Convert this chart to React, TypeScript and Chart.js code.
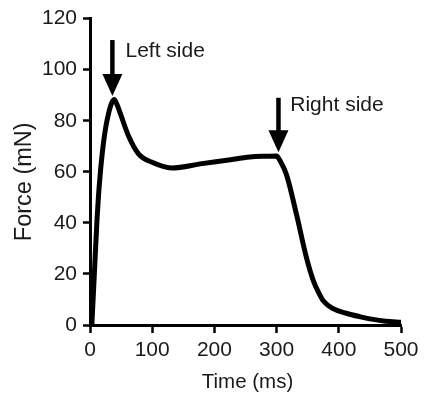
import React, { useEffect, useRef } from "react";
import { Chart, registerables } from "chart.js";

Chart.register(...registerables);

const timeMs = [3, 7, 11, 15, 20, 25, 30, 35, 39, 44, 50, 62, 78, 99, 131, 180, 220, 257, 285, 300, 305, 316, 332, 348, 359, 368, 375, 390, 412, 435, 455, 475, 500];
const forceMN = [0, 20, 40, 55, 68, 77, 83, 87, 88.3, 86, 82, 74, 67, 63.8, 61.5, 63.2, 64.5, 65.8, 66.1, 66.2, 64.6, 58.8, 43.3, 26.4, 17.4, 12.5, 9.5, 6.5, 4.6, 3.2, 2.2, 1.5, 1.1];

const xTicks = [0, 100, 200, 300, 400, 500];
const yTicks = [0, 20, 40, 60, 80, 100, 120];

const xTitle = "Time (ms)";
const yTitle = "Force (mN)";

const arrowLabels = ["Left side", "Right side"];
const arrowX = [36, 303];
const arrowTop = [111.6, 89];
const arrowTip = [89.7, 67.7];
const labelX = [57, 322];
const labelY = [104.8, 83.8];

const FONT = "'Liberation Sans', Arial, sans-serif";
const TEXT = "#1a1a1a";

const annotPlugin = {
  id: "annot",
  afterDatasetsDraw(chart: any) {
    const ctx = chart.ctx;
    const xs = chart.scales.x;
    const ys = chart.scales.y;
    ctx.save();
    arrowLabels.forEach((label, i) => {
      const x = xs.getPixelForValue(arrowX[i]);
      const yTop = ys.getPixelForValue(arrowTop[i]);
      const yTip = ys.getPixelForValue(arrowTip[i]);
      const headLen = 22;
      const headHalf = 10;
      ctx.strokeStyle = "#000";
      ctx.fillStyle = "#000";
      ctx.lineWidth = 4.5;
      ctx.beginPath();
      ctx.moveTo(x, yTop);
      ctx.lineTo(x, yTip - headLen + 2);
      ctx.stroke();
      ctx.beginPath();
      ctx.moveTo(x - headHalf, yTip - headLen);
      ctx.lineTo(x + headHalf, yTip - headLen);
      ctx.lineTo(x, yTip);
      ctx.closePath();
      ctx.fill();
      ctx.fillStyle = TEXT;
      ctx.font = `21px ${FONT}`;
      ctx.textAlign = "left";
      ctx.textBaseline = "alphabetic";
      ctx.fillText(label, xs.getPixelForValue(labelX[i]), ys.getPixelForValue(labelY[i]));
    });
    // axis titles
    ctx.fillStyle = TEXT;
    ctx.textAlign = "center";
    ctx.textBaseline = "middle";
    ctx.font = `20.5px ${FONT}`;
    ctx.fillText(xTitle, (chart.chartArea.left + chart.chartArea.right) / 2 + 2, 382);
    ctx.translate(25, (chart.chartArea.top + chart.chartArea.bottom) / 2 + 10);
    ctx.rotate(-Math.PI / 2);
    ctx.font = `23.5px ${FONT}`;
    ctx.fillText(yTitle, 0, 0);
    ctx.restore();
  },
};

export default function App() {
  const ref = useRef<HTMLCanvasElement>(null);
  useEffect(() => {
    if (!ref.current) return;
    const chart = new Chart(ref.current, {
      type: "scatter",
      data: {
        datasets: [
          {
            data: timeMs.map((t, i) => ({ x: t, y: forceMN[i] })),
            showLine: true,
            borderColor: "#000",
            borderWidth: 5,
            pointRadius: 0,
            cubicInterpolationMode: "monotone",
            borderJoinStyle: "round",
            borderCapStyle: "round",
            fill: false,
          },
        ],
      },
      options: {
        responsive: false,
        animation: false,
        layout: { padding: { top: 15, right: 24, bottom: 0, left: 0 } },
        plugins: { legend: { display: false }, tooltip: { enabled: false } },
        scales: {
          x: {
            type: "linear",
            min: 0,
            max: 500,
            afterBuildTicks: (s: any) => {
              s.ticks = xTicks.map((v) => ({ value: v }));
            },
            afterFit: (s: any) => {
              s.height = 69;
            },
            ticks: { color: TEXT, font: { family: FONT, size: 21 }, padding: 5, maxRotation: 0 },
            grid: { drawOnChartArea: false, drawTicks: true, tickLength: 8, tickColor: "#000", tickWidth: 2.5 },
            border: { display: true, color: "#000", width: 3 },
          },
          y: {
            type: "linear",
            min: 0,
            max: 120,
            afterBuildTicks: (s: any) => {
              s.ticks = yTicks.map((v) => ({ value: v }));
            },
            afterFit: (s: any) => {
              s.width = 90;
            },
            ticks: { color: TEXT, font: { family: FONT, size: 21 }, padding: 6 },
            grid: { drawOnChartArea: false, drawTicks: true, tickLength: 7, tickColor: "#000", tickWidth: 2.5 },
            border: { display: true, color: "#000", width: 3 },
          },
        },
      },
      plugins: [annotPlugin],
    } as any);
    return () => chart.destroy();
  }, []);
  return (
    <div style={{ position: "absolute", left: 0, top: 0, width: 425, height: 394 }}>
      <canvas ref={ref} width={425} height={394} />
    </div>
  );
}
